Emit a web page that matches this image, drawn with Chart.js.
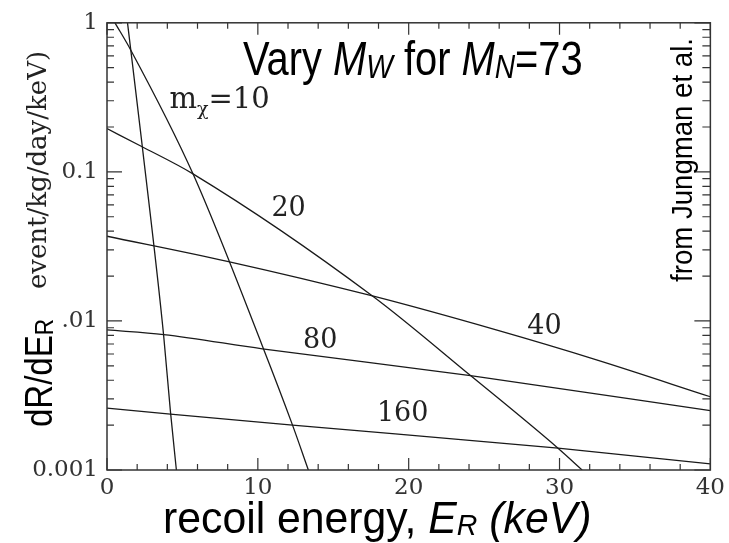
<!DOCTYPE html>
<html>
<head>
<meta charset="utf-8">
<script src="https://cdn.jsdelivr.net/npm/chart.js@4.4.1/dist/chart.umd.min.js"></script>
<style>
  html, body { margin: 0; padding: 0; background: #fff; }
  canvas { display: block; }
</style>
</head>
<body>
<canvas id="rate-chart" width="729" height="543"></canvas>
<script>
// axis ticks
const xTickLabels = [0, 10, 20, 30, 40];
const yTickValues = [0.001, 0.01, 0.1, 1];
const yTickLabels = ['0.001', '.01', '0.1', '1'];

// one entry per curve (first curve has no label in the figure)
const curveLabels = ['', 'm_χ=10', '20', '40', '80', '160'];

// recoil energy (keV) and dR/dE_R (event/kg/day/keV)
const energyA = [1.36, 2.3, 3.75, 4.2, 4.6];
const rateA = [1, 0.16, 0.0081, 0.0025, 0.001];
const energy10 = [0.53, 1.58, 5.7, 10.3, 12.3, 13.35];
const rate10 = [1, 0.655, 0.097, 0.0068, 0.002, 0.001];
const energy20 = [0, 2.3, 5.7, 17.6, 24.1, 29.9, 31.5];
const rate20 = [0.195, 0.148, 0.097, 0.0147, 0.0043, 0.0014, 0.001];
const energy40 = [0, 7.9, 17.6, 25.8, 32.4, 40];
const rate40 = [0.037, 0.0252, 0.0147, 0.0087, 0.0055, 0.0031];
const energy80 = [0, 3.75, 10.3, 24.1, 40];
const rate80 = [0.0087, 0.0081, 0.0065, 0.0043, 0.0025];
const energy160 = [0, 4.2, 12.3, 29.9, 40];
const rate160 = [0.0026, 0.00237, 0.002, 0.0014, 0.0011];

const curves = [
    [energyA, rateA],
    [energy10, rate10],
    [energy20, rate20],
    [energy40, rate40],
    [energy80, rate80],
    [energy160, rate160]
];

const SANS = '"Liberation Sans", Arial, sans-serif';
const SERIF = '"DejaVu Serif", serif';

// draw a run of text pieces [text, font, dy] one after another
function drawRich(ctx, parts, x, y, align, squeeze, angle) {
    let total = 0;
    parts.forEach(p => { ctx.font = p[1]; total += ctx.measureText(p[0]).width; });
    ctx.save();
    ctx.translate(x, y);
    if (angle) ctx.rotate(angle);
    ctx.scale(squeeze, 1);
    let cx = align === 'center' ? -total / 2 : 0;
    ctx.textAlign = 'left';
    ctx.textBaseline = 'alphabetic';
    parts.forEach(p => {
        ctx.font = p[1];
        ctx.fillText(p[0], cx, p[2] || 0);
        cx += ctx.measureText(p[0]).width;
    });
    ctx.restore();
}

const frameAndText = {
    id: 'frameAndText',
    afterDatasetsDraw(chart) {
        const ctx = chart.ctx;
        const area = chart.chartArea;
        const xs = chart.scales.x;
        const ys = chart.scales.y;

        ctx.save();
        ctx.strokeStyle = '#333';
        ctx.lineWidth = 1.5;
        ctx.strokeRect(area.left, area.top, area.right - area.left, area.bottom - area.top);

        // x ticks, inside, every 2 keV
        ctx.lineWidth = 1.2;
        ctx.beginPath();
        for (let e = 0; e <= 40; e += 2) {
            const px = xs.getPixelForValue(e);
            const len = e % 10 === 0 ? 12 : 6;
            ctx.moveTo(px, area.bottom); ctx.lineTo(px, area.bottom - len);
            ctx.moveTo(px, area.top); ctx.lineTo(px, area.top + len);
        }
        // y ticks, inside, log minors
        yTickValues.forEach((d, i) => {
            const py = ys.getPixelForValue(d);
            ctx.moveTo(area.left, py); ctx.lineTo(area.left + 15, py);
            ctx.moveTo(area.right, py); ctx.lineTo(area.right - 16, py);
            if (i === yTickValues.length - 1) return;
            for (let k = 2; k <= 9; k++) {
                const pm = ys.getPixelForValue(k * d);
                ctx.moveTo(area.left, pm); ctx.lineTo(area.left + 7, pm);
                ctx.moveTo(area.right, pm); ctx.lineTo(area.right - 8, pm);
            }
        });
        ctx.stroke();

        // curve labels
        ctx.fillStyle = '#222';
        const labelSpots = [null, [4.14, 0.269], [12.04, 0.056], [29.0, 0.00912], [14.14, 0.00737], [19.6, 0.00238]];
        curveLabels.forEach((t, i) => {
            const spot = labelSpots[i];
            if (!t || !spot) return;
            const px = xs.getPixelForValue(spot[0]);
            const py = ys.getPixelForValue(spot[1]);
            if (t.startsWith('m_χ')) {
                drawRich(ctx, [['m', '29px ' + SERIF], ['χ', '19px ' + SERIF, 7], ['=' + t.split('=')[1], '29px ' + SERIF]], px, py, 'left', 1);
            } else {
                ctx.font = '27px ' + SERIF;
                ctx.textAlign = 'center';
                ctx.textBaseline = 'middle';
                ctx.fillText(t, px, py);
            }
        });

        // title
        ctx.fillStyle = '#000';
        const big = '48px ' + SANS, bigI = 'italic 48px ' + SANS, subI = 'italic 34px ' + SANS;
        drawRich(ctx, [['Vary ', big], ['M', bigI], ['W', subI, 3], [' for ', big], ['M', bigI], ['N', subI, 3], ['=73', big]], 243, 75, 'left', 0.83);

        // x title
        drawRich(ctx, [['recoil energy, ', '45px ' + SANS], ['E', 'italic 45px ' + SANS], ['R', 'italic 30px ' + SANS, 2], [' (keV)', 'italic 45px ' + SANS]], 163, 533, 'left', 0.95);

        // y titles
        drawRich(ctx, [['dR/dE', '38px ' + SANS], ['R', '26px ' + SANS, 1]], 52, 373, 'center', 0.87, -Math.PI / 2);
        ctx.fillStyle = '#222';
        drawRich(ctx, [['event/kg/day/keV)', '26px ' + SERIF]], 46, 170, 'center', 1, -Math.PI / 2);

        // credit
        ctx.fillStyle = '#000';
        drawRich(ctx, [['from Jungman et al.', '30px ' + SANS]], 692, 160, 'center', 0.92, -Math.PI / 2);
        ctx.restore();
    }
};

const datasets = curves.map((c, i) => ({
    label: curveLabels[i] || 'curve',
    data: c[0].map((e, j) => ({ x: e, y: c[1][j] })),
    borderColor: '#1a1a1a',
    borderWidth: 1.3,
    pointRadius: 0,
    fill: false,
    cubicInterpolationMode: 'monotone'
}));

new Chart(document.getElementById('rate-chart').getContext('2d'), {
    type: 'line',
    data: { datasets: datasets },
    options: {
        responsive: false,
        animation: false,
        devicePixelRatio: 1,
        layout: { padding: { left: 0, top: 17, right: 14, bottom: 0 } },
        plugins: { legend: { display: false }, tooltip: { enabled: false } },
        scales: {
            x: {
                type: 'linear',
                min: 0,
                max: 40,
                grid: { display: false, drawTicks: false },
                border: { display: false },
                afterBuildTicks: axis => { axis.ticks = xTickLabels.map(v => ({ value: v })); },
                afterFit: axis => { axis.height = 73; },
                ticks: {
                    autoSkip: false,
                    maxRotation: 0,
                    padding: 4,
                    color: '#333',
                    font: { family: '"DejaVu Serif", serif', size: 23 }
                }
            },
            y: {
                type: 'logarithmic',
                min: 0.001,
                max: 1,
                grid: { display: false, drawTicks: false },
                border: { display: false },
                afterBuildTicks: axis => { axis.ticks = yTickValues.map(v => ({ value: v })); },
                afterFit: axis => { axis.width = 107; },
                ticks: {
                    autoSkip: false,
                    padding: 9,
                    color: '#333',
                    font: { family: '"DejaVu Serif", serif', size: 23 },
                    callback: value => {
                        const i = yTickValues.findIndex(v => Math.abs(v - value) / v < 1e-6);
                        return i >= 0 ? yTickLabels[i] : '';
                    }
                }
            }
        }
    },
    plugins: [frameAndText]
});
</script>
</body>
</html>
